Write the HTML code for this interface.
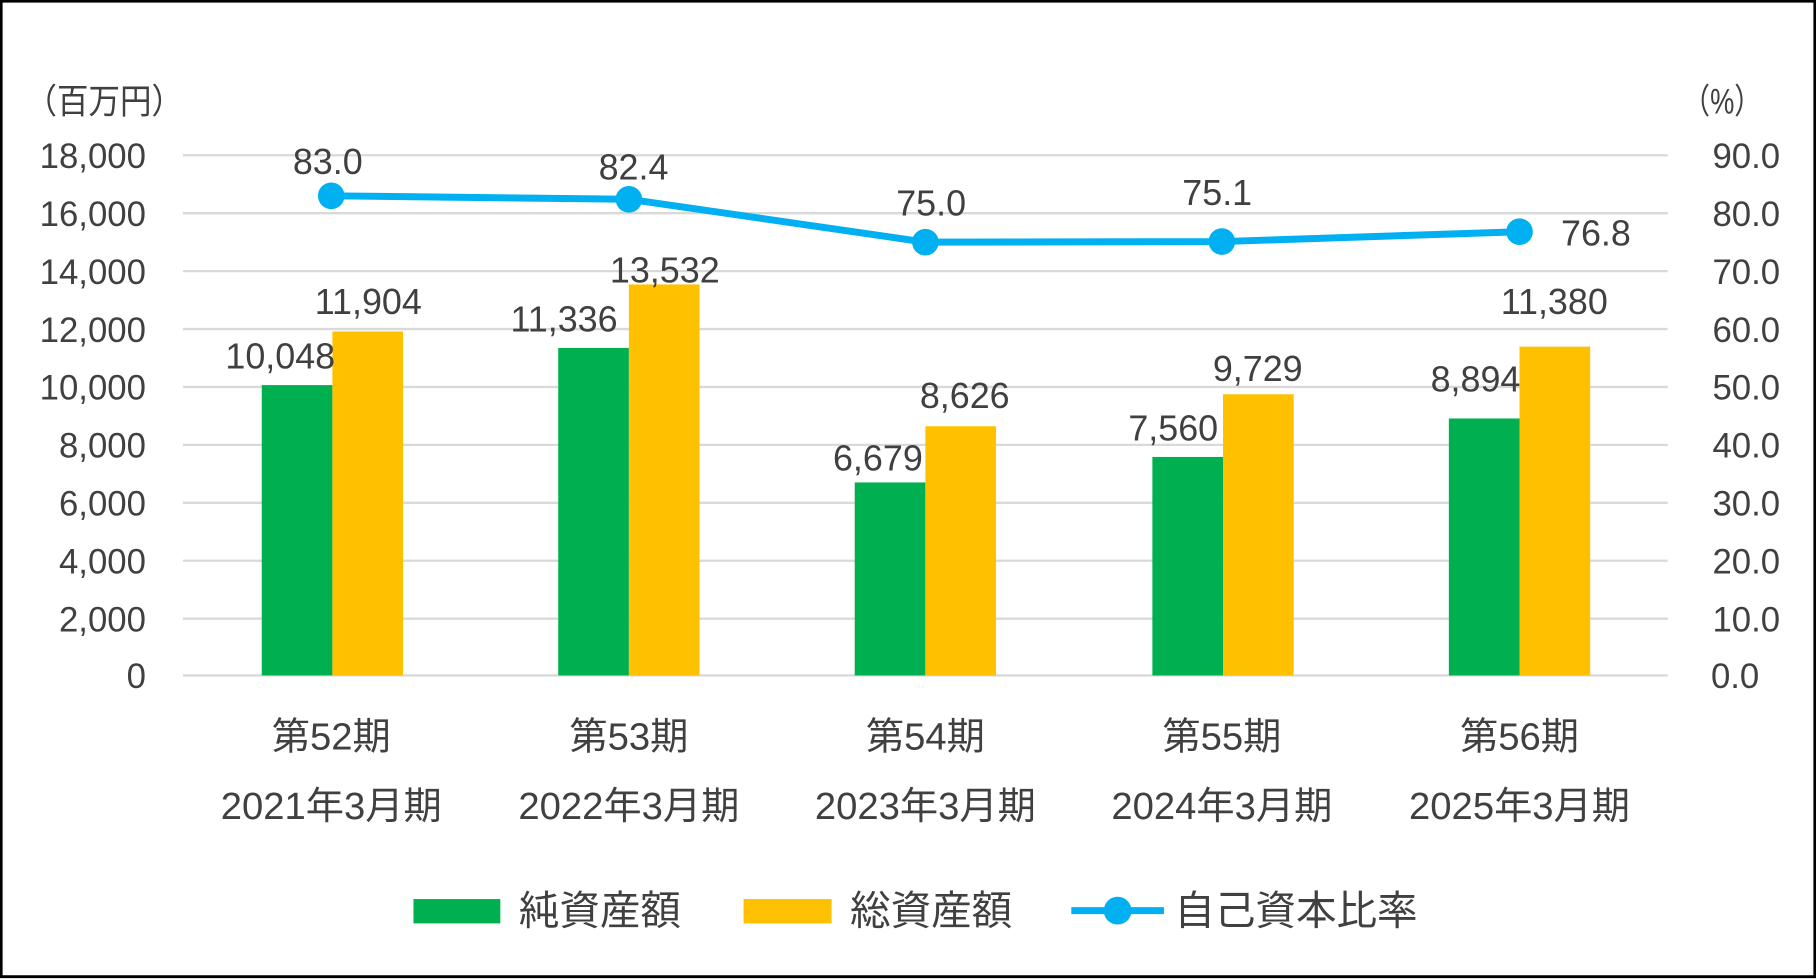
<!DOCTYPE html>
<html><head><meta charset="utf-8"><style>
html,body{margin:0;padding:0;background:#fff;}
svg{display:block;}
text{font-family:"Liberation Sans","Noto Sans CJK JP",sans-serif;fill:#404040;}
</style></head><body>
<svg width="1816" height="979" viewBox="0 0 1568 845" preserveAspectRatio="none" xmlns="http://www.w3.org/2000/svg">
<rect x="0" y="0" width="1568" height="845" fill="#fff"/>
<rect x="1" y="1" width="1566" height="842" fill="none" stroke="#000" stroke-width="2.5"/>
<g stroke="#d9d9d9" stroke-width="2">
<line x1="158" x2="1440" y1="134" y2="134"/><line x1="158" x2="1440" y1="184" y2="184"/>
<line x1="158" x2="1440" y1="234" y2="234"/><line x1="158" x2="1440" y1="284" y2="284"/>
<line x1="158" x2="1440" y1="334" y2="334"/><line x1="158" x2="1440" y1="384" y2="384"/>
<line x1="158" x2="1440" y1="434" y2="434"/><line x1="158" x2="1440" y1="484" y2="484"/>
<line x1="158" x2="1440" y1="534" y2="534"/><line x1="158" x2="1440" y1="583" y2="583"/>
</g>
<g font-size="30" text-anchor="end">
<text x="126" y="145">18,000</text><text x="126" y="195">16,000</text><text x="126" y="245">14,000</text>
<text x="126" y="295">12,000</text><text x="126" y="345">10,000</text><text x="126" y="395">8,000</text>
<text x="126" y="445">6,000</text><text x="126" y="495">4,000</text><text x="126" y="545">2,000</text>
<text x="126" y="594">0</text>
<text x="1537" y="145">90.0</text><text x="1537" y="195">80.0</text><text x="1537" y="245">70.0</text>
<text x="1537" y="295">60.0</text><text x="1537" y="345">50.0</text><text x="1537" y="395">40.0</text>
<text x="1537" y="445">30.0</text><text x="1537" y="495">20.0</text><text x="1537" y="545">10.0</text>
<text x="1519" y="594">0.0</text>
</g>
<text x="22" y="98" font-size="30" textLength="136" lengthAdjust="spacingAndGlyphs">（百万円）</text>
<text x="1453" y="98" font-size="30" textLength="68" lengthAdjust="spacingAndGlyphs">（%）</text>
<g fill="#00B050">
<rect x="226" y="332.4" width="61" height="250.6"/>
<rect x="482" y="300.3" width="61" height="282.7"/>
<rect x="738" y="416.4" width="61" height="166.6"/>
<rect x="995" y="394.4" width="61" height="188.6"/>
<rect x="1251" y="361.2" width="61" height="221.8"/>
</g>
<g fill="#FFC000">
<rect x="287" y="286.1" width="61" height="296.9"/>
<rect x="543" y="245.5" width="61" height="337.5"/>
<rect x="799" y="367.9" width="61" height="215.1"/>
<rect x="1056" y="340.3" width="61" height="242.7"/>
<rect x="1312" y="299.2" width="61" height="283.8"/>
</g>
<polyline points="286,169 543,172 799,209 1055,208.5 1312,200" fill="none" stroke="#00B0F0" stroke-width="6" stroke-linejoin="round"/>
<g fill="#00B0F0">
<circle cx="286" cy="169" r="11.5"/><circle cx="543" cy="172" r="11.5"/><circle cx="799" cy="209" r="11.5"/>
<circle cx="1055" cy="208.5" r="11.5"/><circle cx="1312" cy="200" r="11.5"/>
</g>
<g font-size="31" text-anchor="middle">
<text x="283" y="150">83.0</text><text x="547" y="155">82.4</text><text x="804" y="186">75.0</text>
<text x="1051" y="177">75.1</text><text x="1378" y="212">76.8</text>
<text x="242" y="318">10,048</text><text x="318" y="271">11,904</text>
<text x="487" y="286">11,336</text><text x="574" y="244">13,532</text>
<text x="758" y="406">6,679</text><text x="833" y="352">8,626</text>
<text x="1013" y="380">7,560</text><text x="1086" y="329">9,729</text>
<text x="1274" y="338">8,894</text><text x="1342" y="271">11,380</text>
</g>
<g font-size="33" text-anchor="middle">
<text x="286" y="647">第52期</text><text x="543" y="647">第53期</text><text x="799" y="647">第54期</text>
<text x="1055" y="647">第55期</text><text x="1312" y="647">第56期</text>
<text x="286" y="707">2021年3月期</text><text x="543" y="707">2022年3月期</text><text x="799" y="707">2023年3月期</text>
<text x="1055" y="707">2024年3月期</text><text x="1312" y="707">2025年3月期</text>
</g>
<rect x="357" y="776" width="75" height="21" fill="#00B050"/>
<rect x="642" y="776" width="76" height="21" fill="#FFC000"/>
<line x1="925" x2="1005" y1="786" y2="786" stroke="#00B0F0" stroke-width="6"/>
<circle cx="965" cy="786" r="12" fill="#00B0F0"/>
<g font-size="35">
<text x="448" y="798">純資産額</text>
<text x="734" y="798">総資産額</text>
<text x="1014" y="798">自己資本比率</text>
</g>
</svg>
</body></html>
